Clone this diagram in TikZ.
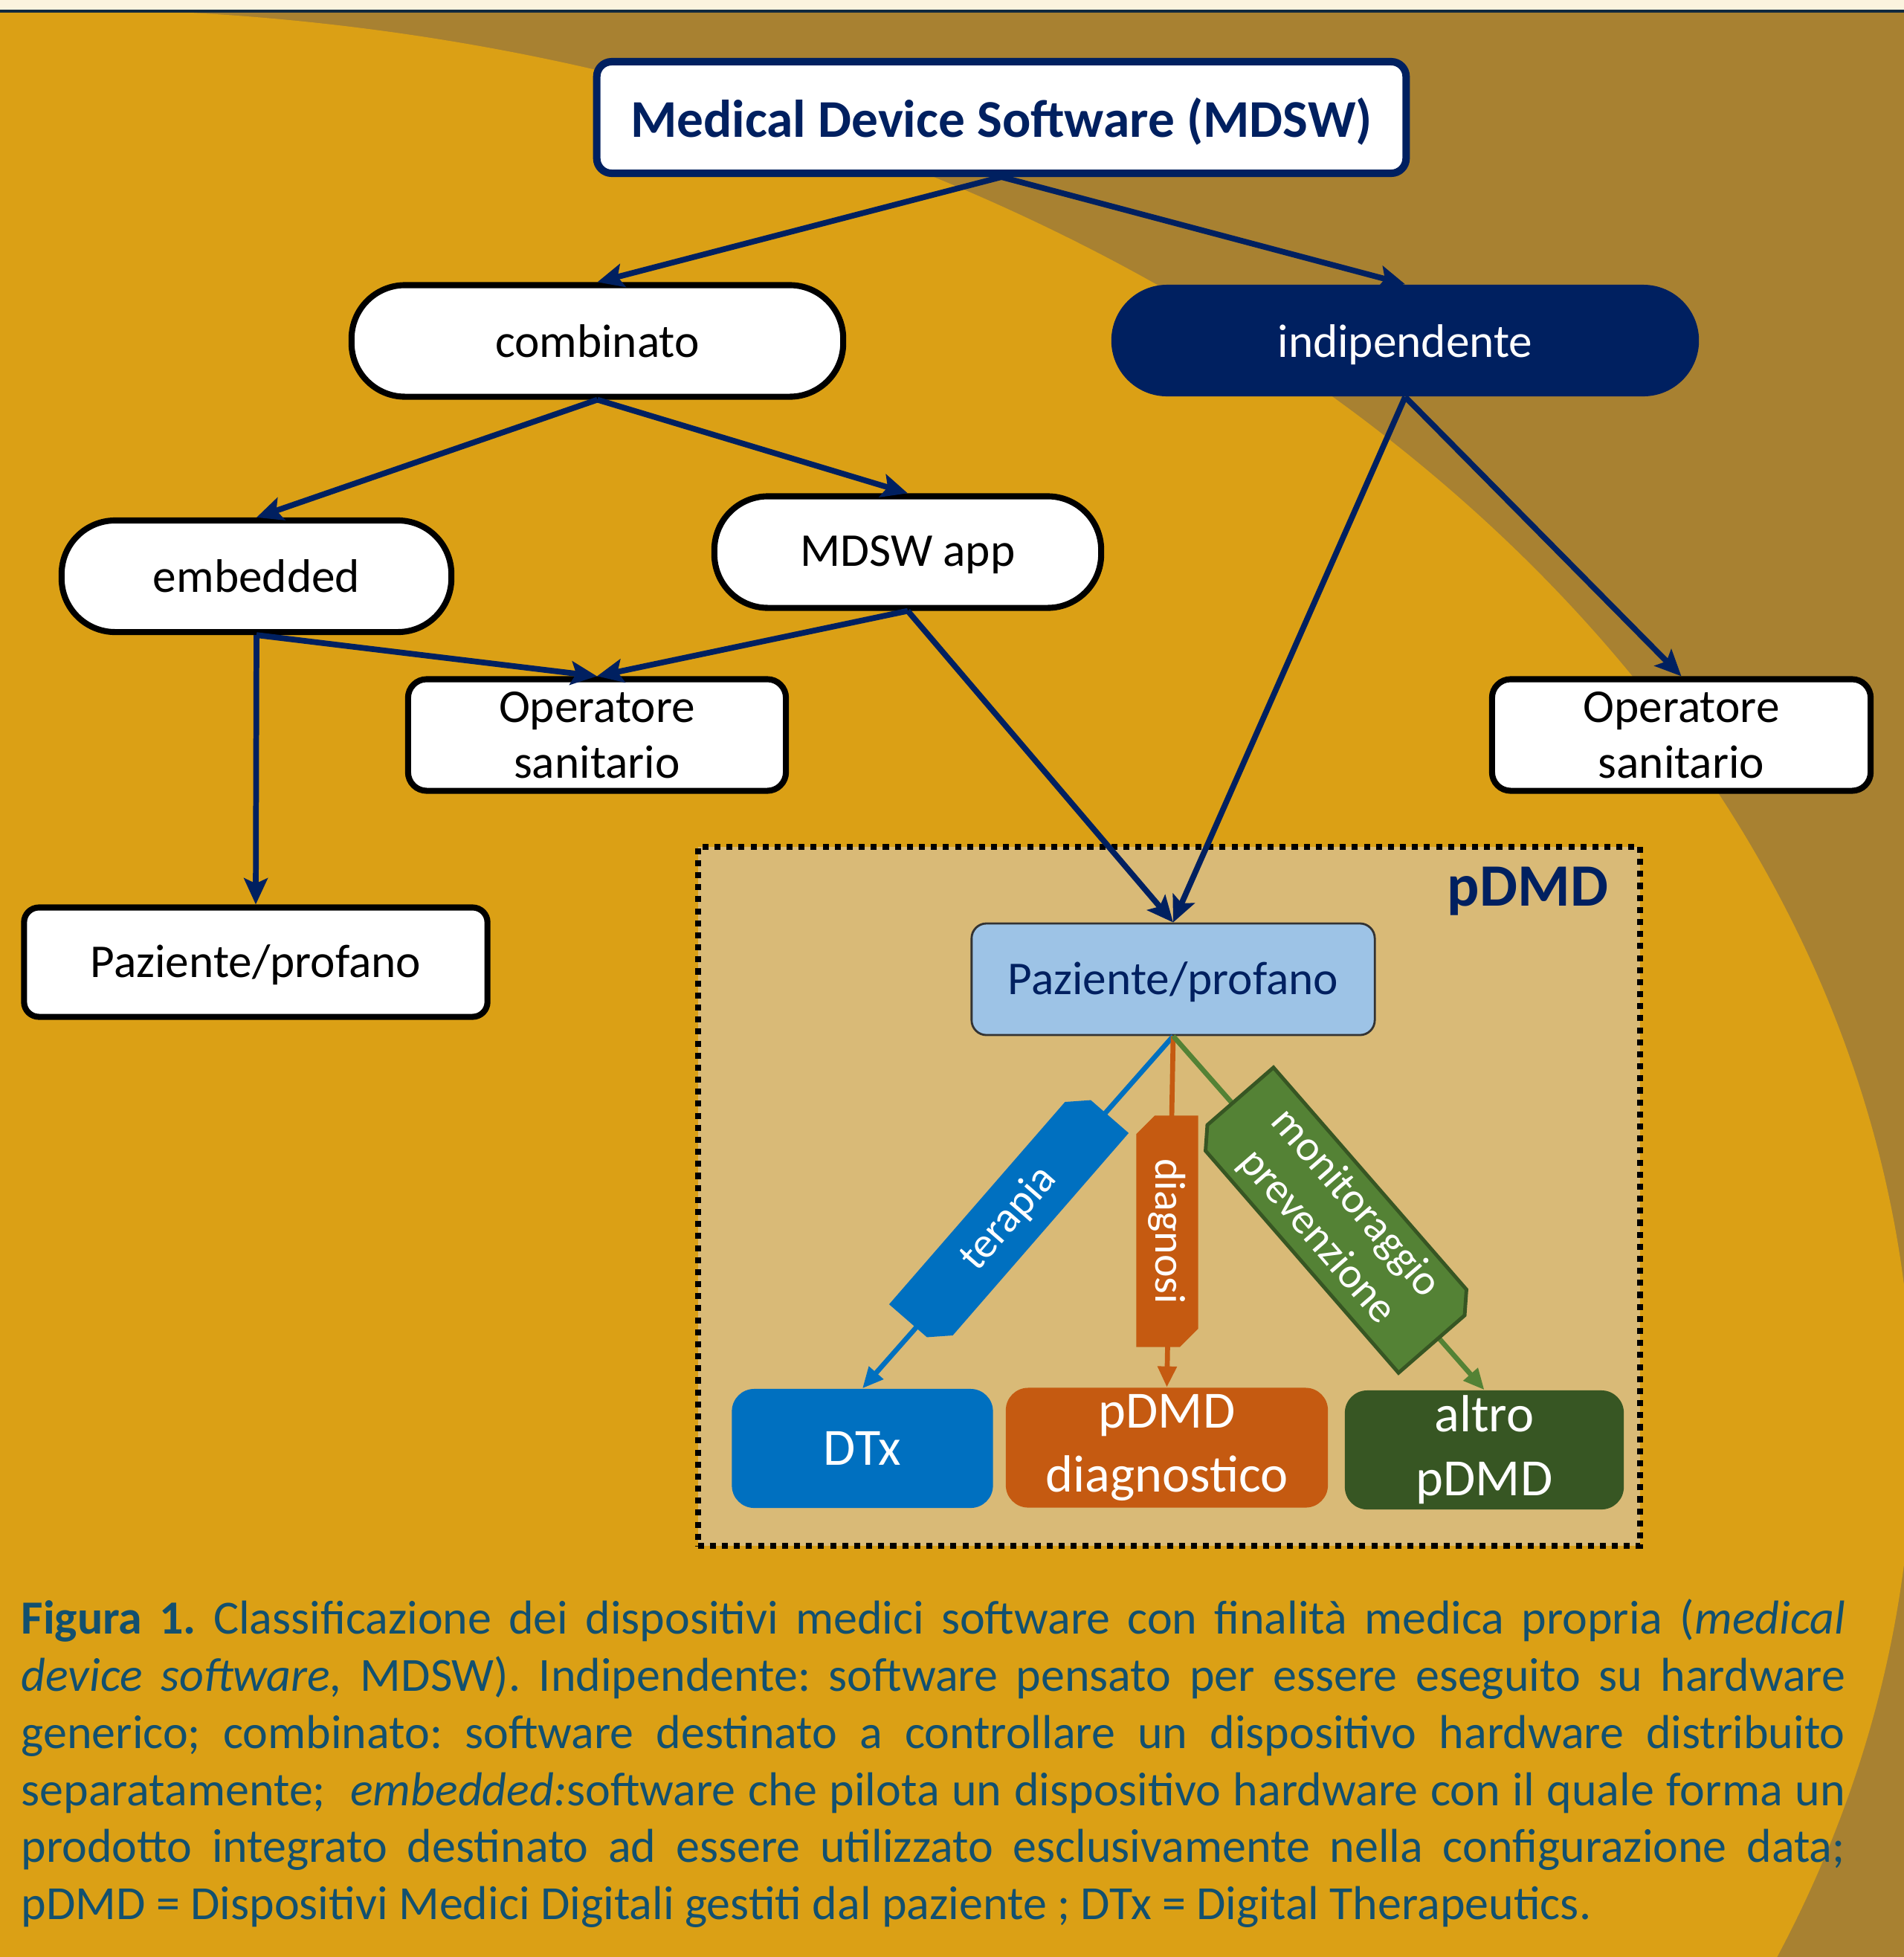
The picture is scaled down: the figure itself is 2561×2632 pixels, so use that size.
\documentclass[tikz,border=0pt]{standalone}
\usepackage{fontspec}
\setmainfont{Carlito}
\usetikzlibrary{arrows.meta,shapes.misc}
\definecolor{gold}{HTML}{DBA015}
\definecolor{brownbg}{HTML}{A88131}
\definecolor{cream}{HTML}{FBF3DE}
\definecolor{topline}{HTML}{10293F}
\definecolor{navy}{HTML}{002060}
\definecolor{boxfill}{HTML}{D9BA77}
\definecolor{lblue}{HTML}{9DC3E6}
\definecolor{dblue}{HTML}{0070C0}
\definecolor{orng}{HTML}{C55A11}
\definecolor{grn}{HTML}{548235}
\definecolor{dgrn}{HTML}{375623}
\definecolor{captc}{HTML}{12506F}
\newcommand{\capline}[1]{\makebox[24.52cm][s]{\spaceskip=0pt\xspaceskip=0pt\frenchspacing #1}}
\begin{document}
\begin{tikzpicture}[x=0.01cm,y=-0.01cm,
  txt/.style={font=\fontsize{18}{21.5}\selectfont},
  pill/.style={draw=black, line width=2.3pt, fill=white, rounded corners=0.72cm,
    minimum height=1.5cm, txt, inner sep=0pt},
  wbox/.style={draw=black, line width=2.3pt, fill=white, rounded corners=0.25cm,
    minimum height=1.5cm, txt, align=center, inner sep=0pt},
  cbox/.style={rounded corners=0.3cm, minimum height=1.6cm, text=white,
    font=\fontsize{20}{24.5}\selectfont, align=center, inner sep=0pt},
  narrow/.style={draw=navy, line width=2.2pt, -{Stealth[length=10pt,width=9pt,inset=2pt]}},
  iarrow/.style={line width=1.9pt, -{Triangle[length=8pt,width=7pt]}},
  lab/.style={chamfered rectangle, chamfered rectangle corners={north east,south west},
    chamfered rectangle xsep=3.5pt, chamfered rectangle ysep=3.5pt,
    text=white, font=\fontsize{16.5}{19.5}\selectfont, align=center, inner sep=0pt}
]
\useasboundingbox (0,0) rectangle (2561,2632);
\begin{scope}
\clip (0,0) rectangle (2561,2632);
\fill[brownbg] (0,0) rectangle (2561,2632);
\fill[gold] (74,1916) ellipse [x radius=2499, y radius=1904];
\fill[cream] (0,0) rectangle (2561,13);
\fill[topline] (0,13) rectangle (2561,17);
\end{scope}

% pDMD area
\node[draw=black, fill=boxfill, line width=2.3pt, dash pattern=on 2.3pt off 2.3pt,
  minimum width=12.67cm, minimum height=9.4cm, inner sep=0pt] (pbox) at (1572.5,1609) {};
\node[anchor=base, text=navy, font=\bfseries\fontsize{23}{27}\selectfont, inner sep=0pt]
  (plabel) at (2055,1218) {pDMD};

% main nodes
\node[draw=navy, line width=2.85pt, fill=white, rounded corners=0.2cm,
  minimum width=10.88cm, minimum height=1.5cm, text=navy, text height=17.3pt, text depth=2pt,
  font=\bfseries\fontsize{20.3}{24}\selectfont] (mdsw) at (1347,158) {Medical Device Software (MDSW)};
\node[pill, minimum width=6.61cm] (comb) at (803.5,458.5) {combinato};
\node[fill=navy, rounded corners=0.75cm, minimum width=7.9cm, minimum height=1.5cm,
  txt, text=white, inner sep=0pt, text height=12.6pt, text depth=0pt] (indip) at (1890,458) {indipendente};
\node[pill, minimum width=5.24cm] (emb) at (345,775) {embedded};
\node[pill, minimum width=5.2cm, text height=14pt, text depth=3.2pt] (app) at (1221,742.5) {MDSW app};
\node[wbox, minimum width=5.08cm] (opl) at (803,988.5) {Operatore\\sanitario};
\node[wbox, minimum width=5.09cm] (opr) at (2261.5,988.5) {Operatore\\sanitario};
\node[wbox, rounded corners=0.2cm, minimum width=6.23cm, minimum height=1.47cm,
  text height=15pt, text depth=3.2pt] (pazl) at (344,1294) {Paziente/profano};

% inner nodes
\node[draw=black!80, line width=0.8pt, fill=lblue, rounded corners=0.2cm, minimum width=5.42cm,
  minimum height=1.5cm, txt, text=navy, inner sep=0pt, text height=15pt, text depth=3.2pt] (pz) at (1578,1317) {Paziente/profano};
\node[cbox, fill=dblue, minimum width=3.51cm] (dtx) at (1160,1948) {DTx};
\node[cbox, fill=orng, minimum width=4.33cm, minimum height=1.61cm] (diag) at (1569.5,1947) {pDMD\\diagnostico};
\node[cbox, fill=dgrn, minimum width=3.75cm] (altro) at (1996.5,1950) {altro\\pDMD};

% navy arrows
\draw[narrow] (mdsw.south) -- (comb.north);
\draw[narrow] (mdsw.south) -- (indip.north);
\draw[narrow] (comb.south) -- (emb.north);
\draw[narrow] (comb.south) -- (app.north);
\draw[narrow] (emb.south) -- (opl.north);
\draw[narrow] (emb.south) -- (pazl.north);
\draw[narrow] (app.south) -- (opl.north);
\draw[narrow] (app.south) -- (pz.north);
\draw[narrow] (indip.south) -- (pz.north);
\draw[narrow] (indip.south) -- (opr.north);

% inner arrows
\draw[iarrow, draw=dblue, fill=dblue] (pz.south) -- (dtx.north);
\draw[iarrow, draw=orng, fill=orng] (pz.south) -- (diag.north);
\draw[iarrow, draw=grn, fill=grn] (pz.south) -- (altro.north);

% labels on arrows
\node[lab, fill=dblue, rotate=49, minimum width=3.85cm, minimum height=0.92cm] (lter) at (1357,1639) {terapia};
\node[lab, fill=orng, rotate=-90, minimum width=3.11cm, minimum height=0.83cm] (ldiag) at (1570,1656) {diagnosi};
\node[lab, fill=grn, draw=dgrn, line width=1.4pt, rotate=-49, minimum width=4.2cm, minimum height=1.3cm] (lmon) at (1797,1641) {monitoraggio\\prevenzione};

% caption
\node[anchor=north west, inner sep=0pt, text width=24.52cm, align=left, text=captc,
  font=\fontsize{18.2}{21.85}\selectfont] (cap) at (28,2150) {%
\capline{\textbf{Figura 1.} Classificazione dei dispositivi medici software con finalità medica propria (\textit{medical}}\\
\capline{\textit{device software,} MDSW). Indipendente: software pensato per essere eseguito su hardware}\\
\capline{generico; combinato: software destinato a controllare un dispositivo hardware distribuito}\\
\capline{separatamente;\ \ \textit{embedded:}software che pilota un dispositivo hardware con il quale forma un}\\
\capline{prodotto integrato destinato ad essere utilizzato esclusivamente nella configurazione data;}\\
{\spaceskip=0pt\xspaceskip=0pt\frenchspacing pDMD = Dispositivi Medici Digitali gestiti dal paziente ; DTx = Digital Therapeutics.}};
\end{tikzpicture}
\end{document}
